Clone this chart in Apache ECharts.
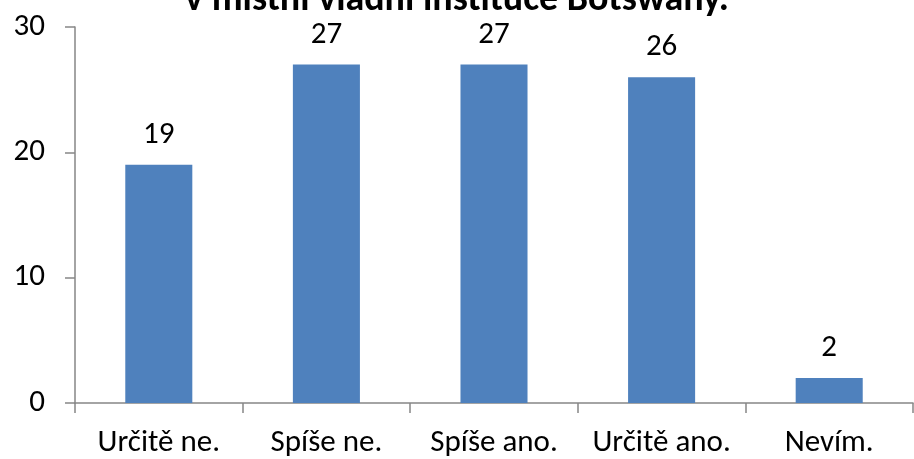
<!DOCTYPE html>
<html><head><meta charset="utf-8">
<script src="https://cdn.jsdelivr.net/npm/echarts@6/dist/echarts.min.js"></script>
<style>html,body{margin:0;padding:0;background:#fff}#c{width:914px;height:459px}</style>
</head><body><div id="c"></div>
<script>
const categories = ['Určitě ne.', 'Spíše ne.', 'Spíše ano.', 'Určitě ano.', 'Nevím.'];
const values = [19, 27, 27, 26, 2];
const titleText = 'v místní vládní instituce Botswany.';
const font = 'Carlito, Calibri, "Open Sans", "Liberation Sans", sans-serif';
const chart = echarts.init(document.getElementById('c'), null, {renderer: 'canvas'});
chart.setOption({
  animation: false,
  title: {text: titleText, left: 'center', top: -24,
    textStyle: {fontFamily: font, fontSize: 38, fontWeight: 'bold', color: '#000'}},
  grid: {left: 75, right: 1, top: 27, bottom: 56, containLabel: false},
  xAxis: {type: 'category', data: categories,
    axisLine: {lineStyle: {color: '#868686', width: 1.5}},
    axisTick: {show: true, length: 10, alignWithLabel: false, lineStyle: {color: '#868686', width: 1.5}},
    axisLabel: {interval: 0, fontFamily: font, fontSize: 31, color: '#000', margin: 25}},
  yAxis: {type: 'value', min: 0, max: 30, interval: 10,
    axisLine: {show: true, lineStyle: {color: '#868686', width: 1.5}},
    axisTick: {show: true, length: 10, lineStyle: {color: '#868686', width: 1.5}},
    splitLine: {show: false},
    axisLabel: {fontFamily: font, fontSize: 31, color: '#000', margin: 30}},
  series: [{type: 'bar', data: values, barWidth: '40%',
    itemStyle: {color: '#4F81BD'},
    label: {show: true, position: 'top', distance: 14, fontFamily: font, fontSize: 31, color: '#000'}}]
});
</script></body></html>
